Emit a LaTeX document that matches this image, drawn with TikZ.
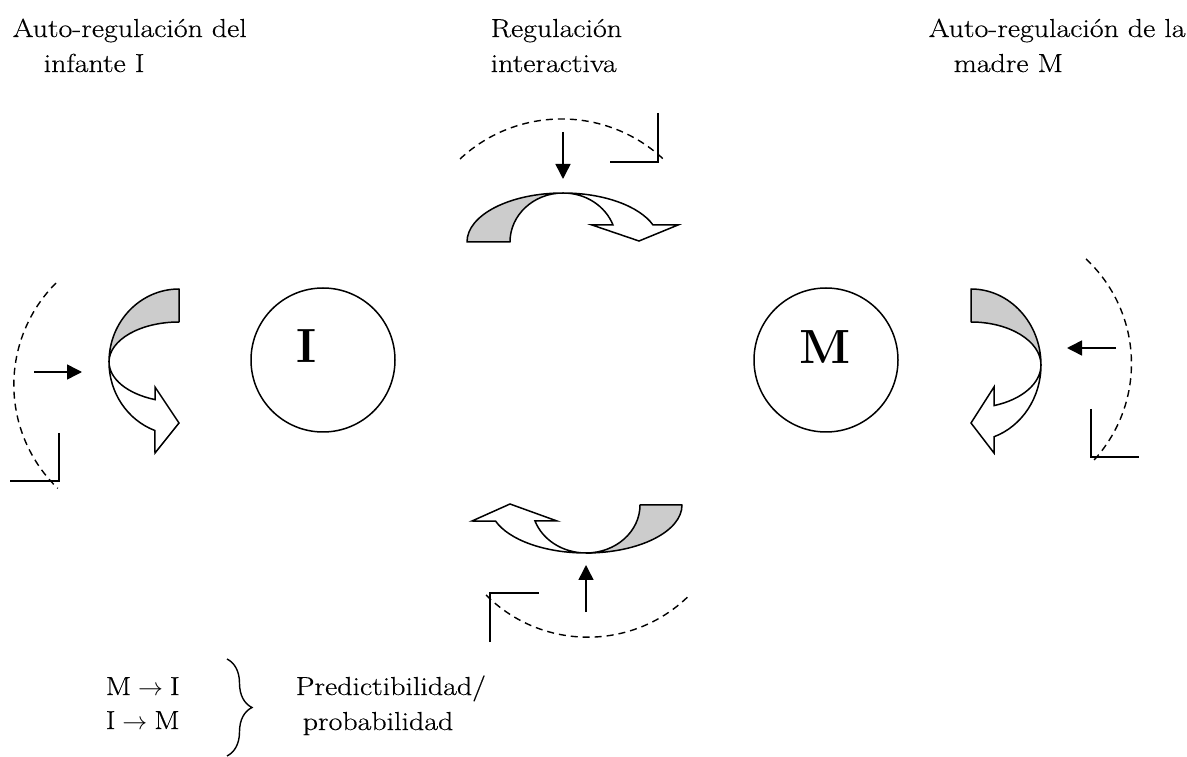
\documentclass[tikz,border=0pt]{standalone}
\usepackage{fontspec}
\setmainfont{Latin Modern Roman}[FakeStretch=1.15,FakeBold=0.4]
\newfontfamily\plainlm{Latin Modern Roman}
\usetikzlibrary{arrows.meta,decorations.pathreplacing}
\begin{document}
\begin{tikzpicture}[x=1pt,y=1pt,line width=1.5pt,
  txt/.style={anchor=base west,inner sep=0pt,font=\fontsize{26}{32}\selectfont},
  big/.style={inner sep=0pt,font=\plainlm\fontsize{48}{52}\selectfont\bfseries},
  person/.style={circle,draw,minimum size=144pt,inner sep=0pt},
  band/.style={draw,fill=gray!40,line join=round},
  blockarrow/.style={draw,fill=white,line join=miter},
  sarrow/.style={-{Triangle[length=15pt,width=15pt]}},
  dashedarc/.style={dash pattern=on 7pt off 5pt,line width=1.4pt},
  corner/.style={line width=1.5pt}]
\useasboundingbox (0,0) rectangle (1187,756);

% titles
\node[txt] (t1a) at (12,719) {Auto-regulación del};
\node[txt] (t1b) at (43,684) {infante I};
\node[txt] (t2a) at (490,719) {Regulación};
\node[txt] (t2b) at (490,684) {interactiva};
\node[txt] (t3a) at (928,719) {Auto-regulación de la};
\node[txt] (t3b) at (953,684) {madre M};

% persons
\node[person] (cI) at (323,396) {};
\node[big] (lI) at (307,410) {I};
\node[person] (cM) at (826,396) {};
\node[big] (lM) at (825,409) {M};

% top curved arrow
\draw[band] (467,514) arc[start angle=180,end angle=90,x radius=96,y radius=49]
  arc[start angle=90,end angle=180,x radius=53,y radius=49] -- cycle;
\draw[blockarrow] (563,563) arc[start angle=90,end angle=20.3,x radius=96,y radius=49]
  -- (678,531) -- (639,515) -- (592,531) -- (613,531)
  arc[start angle=20.3,end angle=90,x radius=53,y radius=49] -- cycle;

% bottom curved arrow
\draw[band] (682,251) arc[start angle=0,end angle=-90,x radius=96,y radius=48]
  arc[start angle=-90,end angle=0,x radius=54,y radius=48] -- cycle;
\draw[blockarrow] (586,203) arc[start angle=-90,end angle=-160.5,x radius=96,y radius=48]
  -- (472,235) -- (510,252) -- (557,235) -- (535,235)
  arc[start angle=-160.5,end angle=-90,x radius=54,y radius=48] -- cycle;

% left curved arrow
\draw[band] (179,467) arc[start angle=90,end angle=180,x radius=70,y radius=73]
  arc[start angle=180,end angle=90,x radius=70,y radius=40] -- cycle;
\draw[blockarrow] (109,394) arc[start angle=180,end angle=249.9,x radius=70,y radius=73]
  -- (155,303) -- (179,333) -- (155,369) -- (155,356.4)
  arc[start angle=249.9,end angle=180,x radius=70,y radius=40] -- cycle;

% right curved arrow
\draw[band] (971,467) arc[start angle=90,end angle=0,x radius=70,y radius=76]
  arc[start angle=0,end angle=90,x radius=70,y radius=43] -- cycle;
\draw[blockarrow] (1041,391) arc[start angle=0,end angle=-70.8,x radius=70,y radius=76]
  -- (994,303) -- (971,333) -- (994,369) -- (994,350.4)
  arc[start angle=-70.8,end angle=0,x radius=70,y radius=43] -- cycle;

% small arrows
\coordinate (aTt) at (563,624); \coordinate (aTh) at (563,577);
\coordinate (aBt) at (586,144); \coordinate (aBh) at (586,191);
\coordinate (aLt) at (34,384);  \coordinate (aLh) at (82,384);
\coordinate (aRt) at (1116,408); \coordinate (aRh) at (1067,408);
\draw[sarrow] (aTt) -- (aTh);
\draw[sarrow] (aBt) -- (aBh);
\draw[sarrow] (aLt) -- (aLh);
\draw[sarrow] (aRt) -- (aRh);

% dashed arcs
\draw[dashedarc] (460,597) arc[start angle=133,end angle=46,radius=149];
\draw[dashedarc] (486,161) arc[start angle=225,end angle=314,radius=144];
\draw[dashedarc] (56,473) arc[start angle=135,end angle=226,radius=144];
\draw[dashedarc] (1086,497) arc[start angle=47,end angle=-44,radius=143];

% corner marks
\draw[corner] (658,643) -- (658,594) -- (610,594);
\draw[corner] (490,114) -- (490,163) -- (539,163);
\draw[corner] (59,323) -- (59,275) -- (10,275);
\draw[corner] (1091,347) -- (1091,299) -- (1139,299);

% legend
\node[txt] (l1) at (105,61) {M$\;\rightarrow\;$I};
\node[txt] (l2) at (105,27) {I$\;\rightarrow\;$M};
\coordinate (brTop) at (227,97);
\coordinate (brBot) at (227,0);
\draw[decorate,decoration={brace,amplitude=25pt},line width=1.4pt] (brTop) -- (brBot);
\node[txt] (p1) at (295,61) {Predictibilidad/};
\node[txt] (p2) at (302,26) {probabilidad};
\end{tikzpicture}
\end{document}
